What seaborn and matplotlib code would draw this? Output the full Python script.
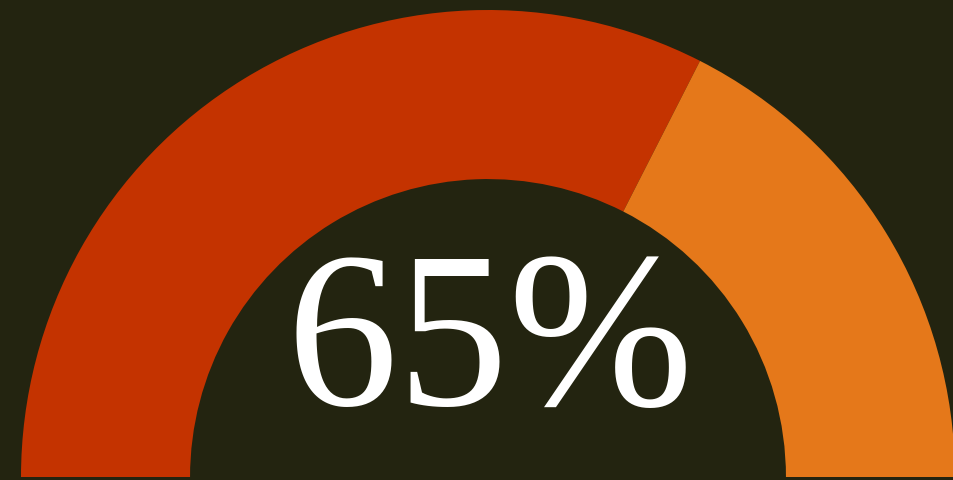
import matplotlib
matplotlib.use("Agg")
import matplotlib.pyplot as plt
import seaborn as sns

sns.set_style("white")

# gauge data
value = 65
labels = ["filled", "rest", "hidden"]
sizes = [value, 100 - value, 100]
colors = ["#c43300", "#e5781a", "none"]

bg = "#232410"

fig = plt.figure(figsize=(9.54, 4.8), dpi=100, facecolor=bg)
ax = fig.add_axes([0, 0, 1, 1])
ax.set_facecolor(bg)

ax.pie(sizes, colors=colors, startangle=180, counterclock=False, radius=1.0,
       wedgeprops=dict(width=0.362, linewidth=0))

ax.set_aspect("auto")
ax.set_xlim(-488 / 467, 466 / 467)
ax.set_ylim(-3 / 467, 477 / 467)
ax.axis("off")

ax.text(0.005, 0.155, f"{value}%", ha="center", va="baseline", color="white",
        fontsize=160, family="Liberation Serif")

fig.savefig("out.png", dpi=100, facecolor=bg)
